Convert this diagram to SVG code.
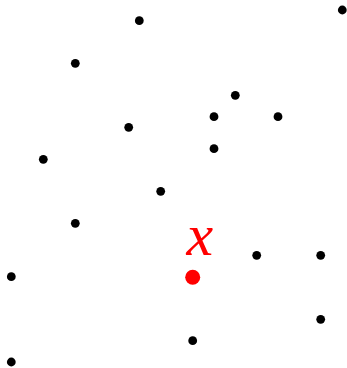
<svg xmlns="http://www.w3.org/2000/svg" width="347" height="368" viewBox="0 0 347 368">
<style>
.p{fill:#000}
.lbl{fill:#ff0000;font-family:"Liberation Serif","DejaVu Serif",serif;font-style:italic;font-size:60px}
</style>
<rect width="347" height="368" fill="#fff"/>
<g id="points">
<circle class="p" cx="139.3" cy="20.7" r="4.4"/>
<circle class="p" cx="342.3" cy="10" r="4.4"/>
<circle class="p" cx="75.3" cy="63.3" r="4.4"/>
<circle class="p" cx="235.3" cy="95.3" r="4.4"/>
<circle class="p" cx="128.7" cy="127.3" r="4.4"/>
<circle class="p" cx="214" cy="116.7" r="4.4"/>
<circle class="p" cx="278" cy="116.7" r="4.4"/>
<circle class="p" cx="43.3" cy="159.3" r="4.4"/>
<circle class="p" cx="214" cy="148.7" r="4.4"/>
<circle class="p" cx="160.7" cy="191.3" r="4.4"/>
<circle class="p" cx="75.3" cy="223.3" r="4.4"/>
<circle class="p" cx="11.3" cy="276.7" r="4.4"/>
<circle class="p" cx="11.3" cy="362" r="4.4"/>
<circle class="p" cx="256.7" cy="255.3" r="4.4"/>
<circle class="p" cx="320.7" cy="255.3" r="4.4"/>
<circle class="p" cx="320.7" cy="319.3" r="4.4"/>
<circle class="p" cx="192.7" cy="340.7" r="4.4"/>
</g>
<g id="x">
<circle cx="192.7" cy="277.3" r="7.5" fill="#ff0000"/>
<text class="lbl" x="199.7" y="255" text-anchor="middle">x</text>
</g>
</svg>
